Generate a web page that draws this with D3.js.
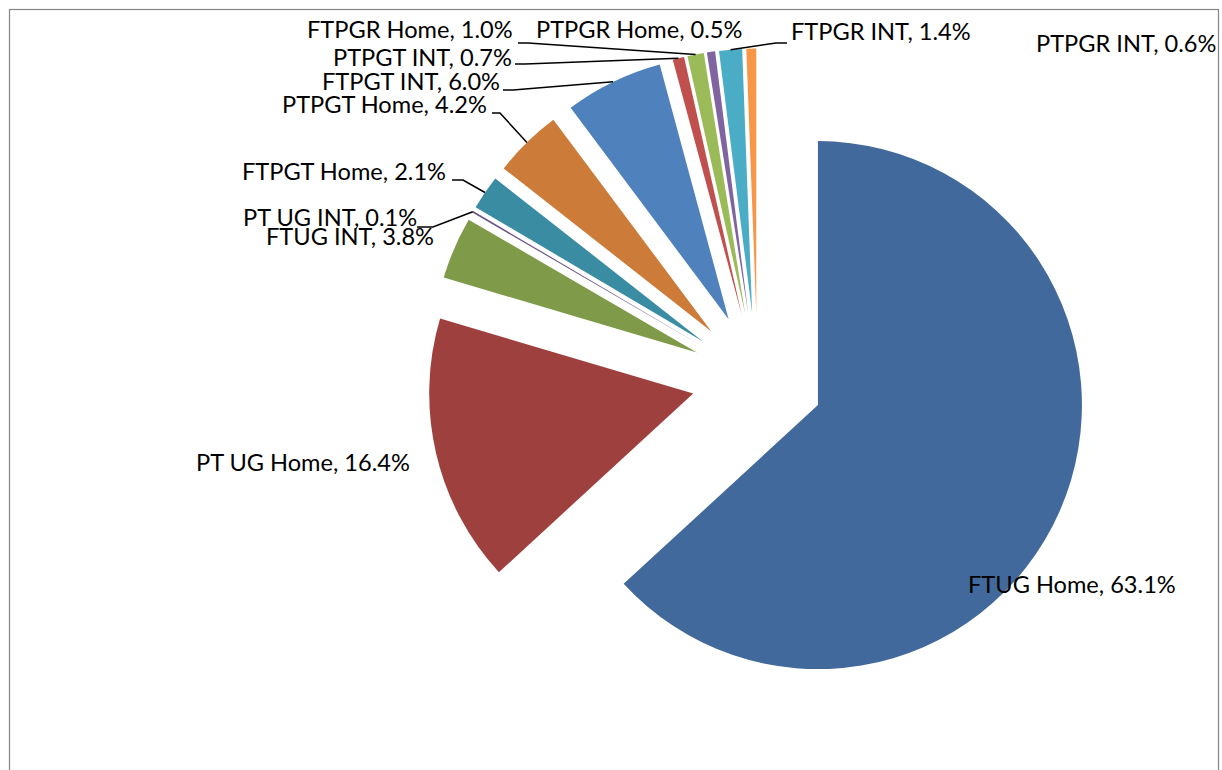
<!DOCTYPE html>
<html>
<head>
<meta charset="utf-8">
<script src="https://cdn.jsdelivr.net/npm/d3@7"></script>
<style>
    body { margin: 0; background: #fff; }
    svg { display: block; }
</style>
</head>
<body>
<svg id="chart" width="1222" height="770"></svg>
<script>
// Data
const categories = ["FTUG Home", "PT UG Home", "FTUG INT", "PT UG INT", "FTPGT Home", "PTPGT Home",
    "FTPGT INT", "PTPGT INT", "FTPGR Home", "PTPGR Home", "FTPGR INT", "PTPGR INT"];
const shares = [63.1, 16.4, 3.8, 0.1, 2.1, 4.2, 6.0, 0.7, 1.0, 0.5, 1.4, 0.6];

// Excel style point colors (first six are the darker variants)
const sliceColors = ["#41699B", "#9E413E", "#7F9A48", "#664F85", "#3A8CA3", "#CC7B38",
    "#4F81BD", "#C0504D", "#9BBB59", "#8064A2", "#4BACC6", "#F79646"];

// Label layout: text left edge, text middle, leader bend points (null = no leader)
const labelX = [968, 196, 266, 243, 242, 282, 322, 333, 307, 536, 791, 1036];
const labelY = [585, 463, 237, 218, 172, 105, 82, 58, 30, 30, 32, 44];
const leaderBends = [
    null, null, null,
    [[433, 227], [417, 227]],
    [[463, 180], [452, 180]],
    [[500, 113], [492, 113]],
    [[513, 90], [503, 90]],
    [[525, 64], [515, 64]],
    [[528, 43], [518, 43]],
    null,
    [[776, 43], [787, 43]],
    null
];

const cx = 757.5, cy = 378.6;
const radius = 264;
const explode = 66;

const svg = d3.select("#chart");

// Chart area border (only left, top and right edges are visible)
svg.append("rect")
    .attr("x", 9.5)
    .attr("y", 9.5)
    .attr("width", 1209)
    .attr("height", 820)
    .attr("fill", "none")
    .attr("stroke", "#868686")
    .attr("stroke-width", 1.2);

const pie = d3.pie().sort(null).value((d) => d);
const arcs = pie(shares);

const arc = d3.arc().innerRadius(0).outerRadius(radius);

const mid = (a) => (a.startAngle + a.endAngle) / 2;
const offset = (a, dist) => [dist * Math.sin(mid(a)), -dist * Math.cos(mid(a))];

const g = svg.append("g").attr("transform", `translate(${cx}, ${cy})`);

// Exploded slices
g.selectAll("path.slice")
    .data(arcs)
    .enter()
    .append("path")
    .attr("class", "slice")
    .attr("d", arc)
    .attr("transform", (d) => {
        const [dx, dy] = offset(d, explode);
        return `translate(${dx}, ${dy})`;
    })
    .attr("fill", (d, i) => sliceColors[i]);

// Leader lines
const line = d3.line();
svg.append("g")
    .selectAll("path")
    .data(arcs.filter((d, i) => leaderBends[i]))
    .enter()
    .append("path")
    .attr("d", (d) => {
        const [ox, oy] = offset(d, explode + radius);
        return line([[cx + ox, cy + oy], ...leaderBends[d.index]]);
    })
    .attr("fill", "none")
    .attr("stroke", "#000")
    .attr("stroke-width", 1.5);

// Data labels
svg.append("g")
    .selectAll("text")
    .data(arcs)
    .enter()
    .append("text")
    .attr("x", (d, i) => labelX[i])
    .attr("y", (d, i) => labelY[i])
    .attr("dy", "0.35em")
    .attr("font-family", "Lato, 'Open Sans', sans-serif")
    .attr("font-size", "23.6px")
    .attr("fill", "#000")
    .text((d, i) => `${categories[i]}, ${shares[i].toFixed(1)}%`);
</script>
</body>
</html>
